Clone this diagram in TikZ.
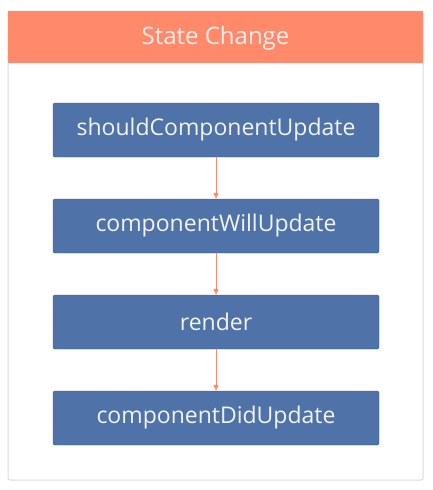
\documentclass[tikz,border=0pt]{standalone}
\usepackage{fontspec}
\setmainfont{Open Sans}
\usetikzlibrary{arrows.meta,positioning}
\definecolor{headcol}{HTML}{FF8A6B}
\definecolor{boxcol}{HTML}{4F72A8}
\definecolor{framecol}{HTML}{DADADA}
\tikzset{
  stepbox/.style={draw=boxcol!80!black, fill=boxcol, rounded corners=1.5pt,
    minimum width=326pt, minimum height=54pt, text=white!92!boxcol,
    font=\fontsize{23}{27}\selectfont},
  flow/.style={-{Triangle[length=6pt,width=5pt]}, draw=headcol, line width=0.8pt}
}
\begin{document}
\begin{tikzpicture}[x=1pt,y=-1pt]
      \useasboundingbox (0,0) rectangle (432,490);
      % Frame and header
      \draw[framecol, line width=1pt, rounded corners=2pt] (8,11) rectangle (423,480);
      \fill[headcol] (8,11) rectangle (423,63);
      \node[text=white!85!headcol, font=\fontsize{24}{28}\selectfont] (title) at (215.5,38) {State Change};

      % Lifecycle steps
      \node[stepbox] (should) at (216,130) {shouldComponentUpdate};
      \node[stepbox] (will) at (216,226) {componentWillUpdate};
      \node[stepbox] (render) at (216,322) {render};
      \node[stepbox] (did) at (216,418) {componentDidUpdate};

      % Arrows
      \draw[flow] (should) -- (will);
      \draw[flow] (will) -- (render);
      \draw[flow] (render) -- (did);
    \end{tikzpicture}
\end{document}
